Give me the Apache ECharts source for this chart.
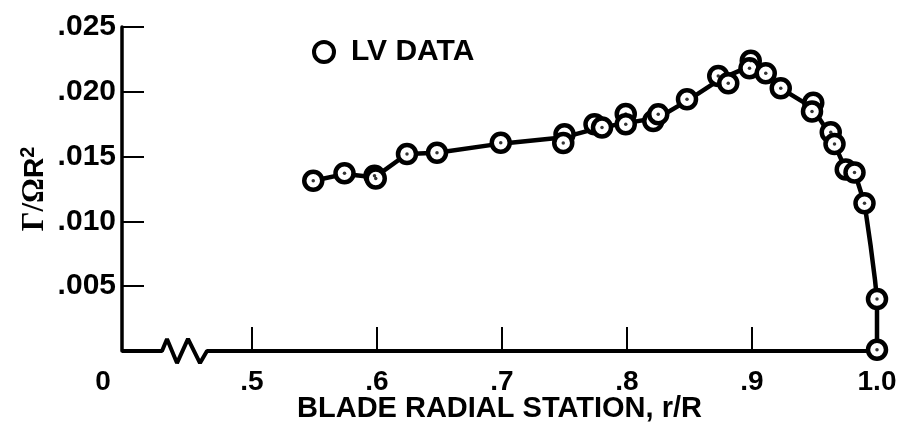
<!DOCTYPE html>
<html><head><meta charset="utf-8">
<script src="https://cdn.jsdelivr.net/npm/echarts@6/dist/echarts.min.js"></script>
<style>html,body{margin:0;padding:0;background:#fff}#c{width:898px;height:426px}</style>
</head><body><div id="c"></div>
<script>
// ---- data ----
const xMinBroken = 0.396;               // axis start (shown as "0", axis broken)
const xTickValues = [0.5, 0.6, 0.7, 0.8, 0.9];
const xLabelValues = [0.396, 0.5, 0.6, 0.7, 0.8, 0.9, 1.0];
const xLabelTexts = ['0', '.5', '.6', '.7', '.8', '.9', '1.0'];
const yTickLabels = ['', '.005', '.010', '.015', '.020', '.025'];

// LV DATA points  (r/R, Gamma/(Omega R^2))
const lvR = [0.549, 0.574, 0.598, 0.599, 0.624, 0.648, 0.699, 0.750, 0.749, 0.774, 0.780,
             0.799, 0.799, 0.821, 0.825, 0.848, 0.873, 0.881, 0.899, 0.898, 0.911, 0.923,
             0.949, 0.948, 0.963, 0.966, 0.975, 0.982, 0.990, 1.000, 1.000];
const lvG = [0.01314, 0.01371, 0.01353, 0.01331, 0.01520, 0.01530, 0.01607, 0.01672, 0.01605, 0.01749, 0.01725,
             0.01829, 0.01750, 0.01775, 0.01826, 0.01942, 0.02122, 0.02066, 0.02240, 0.02181, 0.02143, 0.02027,
             0.01916, 0.01848, 0.01688, 0.01597, 0.01400, 0.01377, 0.01140, 0.00401, 0.00010];

// faired curve drawn through the data
const curveR = [0.549, 0.574, 0.598, 0.624, 0.648, 0.699, 0.750, 0.777, 0.800, 0.825, 0.848,
                0.875, 0.899, 0.911, 0.923, 0.948, 0.963, 0.975, 0.983, 0.990, 0.995, 0.9984, 1.000, 1.000];
const curveG = [0.01314, 0.01365, 0.01340, 0.01520, 0.01530, 0.01600, 0.01650, 0.01720, 0.01760, 0.01800, 0.01930,
                0.02100, 0.02200, 0.02140, 0.02027, 0.01880, 0.01660, 0.01400, 0.01350, 0.01140, 0.00805, 0.00548, 0.00400, 0.00000];

// x-axis baseline with break symbol
const baseR = [0.396, 0.428, 0.432, 0.440, 0.4488, 0.4584, 0.464, 1.000];
const baseG = [0, 0, 0.00093, -0.00093, 0.00093, -0.00093, 0, 0];

const zip = (a, b) => a.map((v, i) => [v, b[i]]);
const SANS = '"Liberation Sans", Arial, Helvetica, sans-serif';
const chart = echarts.init(document.getElementById('c'), null, {renderer: 'canvas'});
chart.setOption({
  animation: false,
  backgroundColor: '#fff',
  grid: {left: 122, right: 21, top: 27, bottom: 75, containLabel: false, outerBoundsMode: 'none'},
  legend: {
    left: 307, top: 32, itemWidth: 20, itemHeight: 20,
    selectedMode: false,
    data: [{name: 'LV DATA', icon: 'circle', itemStyle: {color: '#fff', borderColor: '#000', borderWidth: 4}}],
    textStyle: {fontFamily: SANS, fontWeight: 'bold', fontSize: 30, color: '#000', padding: [0, 0, 0, 12]}
  },
  xAxis: {
    type: 'value', min: xMinBroken, max: 1.0,
    name: 'BLADE RADIAL STATION, r/R', nameLocation: 'middle', nameGap: 43, nameMoveOverlap: false,
    nameTextStyle: {fontFamily: SANS, fontWeight: 'bold', fontSize: 29, color: '#000'},
    axisLine: {show: false},
    splitLine: {show: false},
    axisTick: {show: true, inside: true, length: 24, customValues: xTickValues, lineStyle: {color: '#000', width: 2}},
    axisLabel: {
      customValues: xLabelValues, margin: 17, color: '#000',
      fontFamily: SANS, fontWeight: 'bold', fontSize: 28,
      formatter: v => {
        let i = xLabelValues.findIndex(x => Math.abs(x - v) < 1e-6);
        let t = i >= 0 ? xLabelTexts[i] : '';
        return i === 0 ? '{z|' + t + '}' : t;
      },
      rich: {z: {fontFamily: SANS, fontWeight: 'bold', fontSize: 28, color: '#000', padding: [0, 38, 0, 0]}}
    }
  },
  yAxis: {
    type: 'value', min: 0, max: 0.025, interval: 0.005,
    name: '{g|Γ/Ω}{r|R}{s|2}', nameLocation: 'middle', nameRotate: 90, nameGap: 70, nameMoveOverlap: false,
    nameTextStyle: {
      color: '#000',
      rich: {
        g: {fontFamily: '"Liberation Serif", "DejaVu Serif", serif', fontWeight: 'bold', fontSize: 31, color: '#000', lineHeight: 34},
        r: {fontFamily: SANS, fontWeight: 'bold', fontSize: 28, color: '#000', lineHeight: 34},
        s: {fontFamily: SANS, fontWeight: 'bold', fontSize: 20, color: '#000', verticalAlign: 'top', lineHeight: 34}
      }
    },
    axisLine: {show: true, lineStyle: {color: '#000', width: 3.5}},
    splitLine: {show: false},
    axisTick: {show: true, inside: true, length: 22, lineStyle: {color: '#000', width: 2}},
    axisLabel: {
      margin: 6, color: '#000', fontFamily: SANS, fontWeight: 'bold', fontSize: 30,
      formatter: v => yTickLabels[Math.round(v / 0.005)] || ''
    }
  },
  series: [
    {type: 'line', name: 'baseline', data: zip(baseR, baseG), symbol: 'none', clip: false, silent: true,
     lineStyle: {color: '#000', width: 4}, z: 2},
    {type: 'line', name: 'curve', data: zip(curveR, curveG), symbol: 'none', clip: false, silent: true,
     lineStyle: {color: '#000', width: 4.5}, z: 3},
    {type: 'scatter', name: 'LV DATA', data: zip(lvR, lvG), symbol: 'circle', symbolSize: 18,
     itemStyle: {color: '#fff', borderColor: '#000', borderWidth: 4.5, opacity: 1}, z: 4},
    {type: 'scatter', name: 'dots', data: zip(lvR, lvG), symbol: 'circle', symbolSize: 3.5,
     itemStyle: {color: '#000'}, z: 5, silent: true}
  ]
});
</script></body></html>
